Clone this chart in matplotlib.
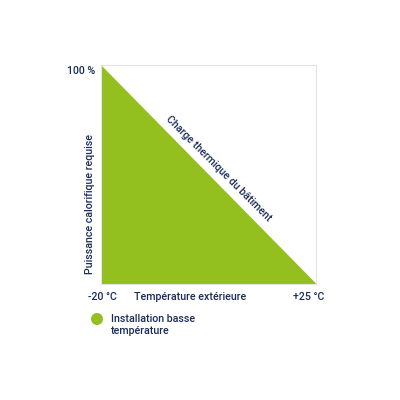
import matplotlib
matplotlib.use("Agg")
import matplotlib.pyplot as plt
from matplotlib.patches import Circle

temps = [-20, 25]
load = [100, 0]
x_labels = ["-20 °C", "+25 °C"]
y_label_top = "100 %"
x_title = "Température extérieure"
y_title = "Puissance calorifique requise"
line_label = "Charge thermique du bâtiment"
legend_label = "Installation basse\ntempérature"

GREEN = "#93bf1f"
NAVY = "#1b2c5a"
FONT = "Roboto"
FS = 7.7
WT = "medium"

fig = plt.figure(figsize=(4, 4), dpi=100)
W = H = 400.0
def fx(x): return x / W
def fy(y): return 1 - y / H

ax = fig.add_axes([fx(101), fy(283.5), (316 - 101) / W, (283.5 - 65) / H])
ax.fill_between(temps, load, 0, color=GREEN, linewidth=0)
ax.set_xlim(temps[0], temps[1])
ax.set_ylim(0, 100)
ax.set_xticks([])
ax.set_yticks([])
for s in ax.spines.values():
    s.set_color("#e3e3e3")
    s.set_linewidth(0.8)

kw = dict(color=NAVY, fontsize=FS, family=FONT, fontweight=WT)

# diagonal label
ax.text(0.53, 0.51, line_label, transform=ax.transAxes, rotation=-45,
        rotation_mode="anchor", ha="center", va="bottom", **kw)

fig.text(fx(95), fy(71), y_label_top, ha="right", va="center", **kw)
fig.text(fx(102), fy(297), x_labels[0], ha="center", va="center", **kw)
fig.text(fx(309), fy(297), x_labels[1], ha="center", va="center", **kw)
fig.text(fx(190), fy(297), x_title, ha="center", va="center", **kw)
fig.text(fx(90), fy(204), y_title, ha="center", va="center", rotation=90, **kw)

# legend
fig.patches.append(Circle((fx(97), fy(319)), 6 / W, transform=fig.transFigure,
                          color=GREEN, linewidth=0))
fig.text(fx(111), fy(314), legend_label, ha="left", va="top",
         linespacing=1.3, **kw)

fig.savefig("out.png", dpi=100, facecolor="white")
